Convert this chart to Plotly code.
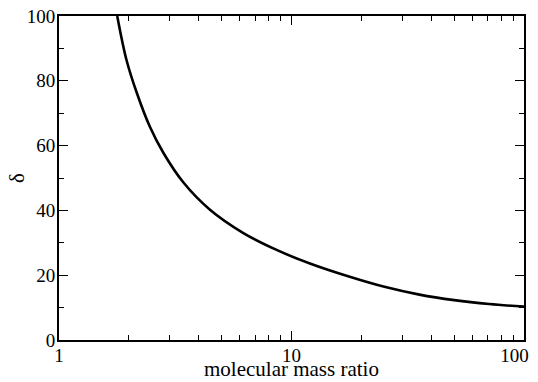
import plotly.graph_objects as go

mass_ratio = [1.78, 1.95, 2.16, 2.46, 2.81, 3.43, 4.46, 6.21, 8.63, 12.0,
              17.8, 25.1, 35.5, 50.1, 70.8, 100]
delta = [100, 86.5, 76.3, 65.8, 57.8, 48.6, 40.2, 33.0, 27.8, 23.6,
         19.5, 16.4, 14.0, 12.3, 11.1, 10.3]

x_ticks = [1, 10, 100]
x_labels = ["1", "10", "100"]
x_minor = [2, 3, 4, 5, 6, 7, 8, 9, 20, 30, 40, 50, 60, 70, 80, 90]
y_ticks = [0, 20, 40, 60, 80, 100]
y_minor = [10, 30, 50, 70, 90]

# keep the last x label inside the visible page (pad on its right side)
x_text = x_labels[:-1] + [x_labels[-1] + "\u00a0" * 4]

fig = go.Figure()
fig.add_trace(go.Scatter(x=mass_ratio, y=delta, mode="lines",
                         line=dict(color="black", width=2.6, shape="spline", smoothing=1),
                         showlegend=False))

tick_font = dict(family="Liberation Serif", size=19, color="black")
title_font = dict(family="Liberation Serif", size=21, color="black")
fig.update_layout(
    width=530, height=374,
    margin=dict(l=51, r=14, t=8, b=42),
    paper_bgcolor="white", plot_bgcolor="white",
    font=tick_font,
    xaxis=dict(type="log", range=[0, 2], tickmode="array", tickvals=x_ticks,
               ticktext=x_text, tickfont=tick_font,
               ticks="inside", ticklen=9, tickwidth=1, tickcolor="black",
               showline=True, linecolor="black", linewidth=2, mirror="allticks",
               showgrid=False, zeroline=False, automargin=False,
               ticklabeloverflow="allow", ticklabelstandoff=-3,
               minor=dict(tickmode="array", tickvals=x_minor, ticks="inside",
                          ticklen=5, tickwidth=1, tickcolor="black", showgrid=False)),
    yaxis=dict(range=[0, 100], tickmode="array", tickvals=y_ticks, tickfont=tick_font,
               ticks="inside", ticklen=9, tickwidth=1, tickcolor="black",
               showline=True, linecolor="black", linewidth=2, mirror="allticks",
               showgrid=False, zeroline=False, automargin=False,
               ticklabeloverflow="allow", ticklabelstandoff=-2,
               minor=dict(tickmode="array", tickvals=y_minor, ticks="inside",
                          ticklen=5, tickwidth=1, tickcolor="black", showgrid=False)),
    annotations=[
        dict(text="molecular mass ratio", xref="paper", yref="paper", x=0.5, y=0,
             xanchor="center", yanchor="middle", yshift=-29, showarrow=False,
             font=title_font),
        dict(text="δ", xref="paper", yref="paper", x=0, y=0.5,
             xanchor="center", yanchor="middle", xshift=-42, textangle=-90,
             showarrow=False, font=title_font),
    ],
)

fig.write_html("out.html")
